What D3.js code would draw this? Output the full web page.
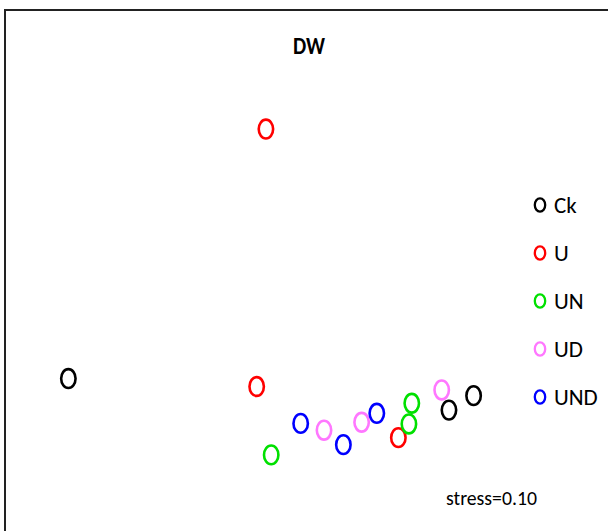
<!DOCTYPE html>
<html>
<head>
<meta charset="utf-8">
<script src="https://cdn.jsdelivr.net/npm/d3@7"></script>
<style>
  body { margin: 0; background: #fff; }
  text { font-family: Carlito, Calibri, "Liberation Sans", Arial, sans-serif; }
</style>
</head>
<body>
<div id="vis"></div>
<script>
const WIDTH = 608;
const HEIGHT = 531;

// grupos y colores
const grupos = ["Ck", "U", "UN", "UD", "UND"];
const colores = ["#000000", "#ff0000", "#00e000", "#ff77ff", "#0000ff"];

// coordenadas NMDS (3 repeticiones por grupo)
const nmds1 = {
  Ck:  [-0.962, 0.768, 0.880],
  U:   [-0.064, -0.106, 0.538],
  UN:  [-0.040, 0.599, 0.586],
  UD:  [0.200, 0.371, 0.735],
  UND: [0.094, 0.288, 0.440]
};
const nmds2 = {
  Ck:  [-0.466, -0.632, -0.556],
  U:   [0.847, -0.508, -0.777],
  UN:  [-0.868, -0.596, -0.705],
  UD:  [-0.738, -0.696, -0.526],
  UND: [-0.702, -0.814, -0.649]
};

const titulo = "DW";
const stress = "stress=0.10";

const SVG = d3.select("#vis").append("svg")
  .attr("width", WIDTH)
  .attr("height", HEIGHT);

// marco (solo se ven el borde superior e izquierdo)
SVG.append("rect")
  .attr("x", 5).attr("y", 10)
  .attr("width", 640).attr("height", 560)
  .attr("fill", "none")
  .attr("stroke", "#222")
  .attr("stroke-width", 2);

const escalaX = d3.scaleLinear().domain([-1, 1]).range([60, 500]);
const escalaY = d3.scaleLinear().domain([-1, 1]).range([480, 100]);

const puntos = [];
grupos.forEach((g, i) => {
  nmds1[g].forEach((v, j) => {
    puntos.push({ grupo: g, color: colores[i], x: v, y: nmds2[g][j] });
  });
});

SVG.selectAll(".punto")
  .data(puntos)
  .join("ellipse")
  .attr("class", "punto")
  .attr("cx", d => escalaX(d.x))
  .attr("cy", d => escalaY(d.y))
  .attr("rx", 7.2)
  .attr("ry", 9.4)
  .attr("fill", "none")
  .attr("stroke", d => d.color)
  .attr("stroke-width", 2.6);

// titulo
SVG.append("text")
  .attr("x", 309).attr("y", 54)
  .attr("text-anchor", "middle")
  .attr("font-size", 24)
  .attr("font-weight", "bold")
  .attr("textLength", 32)
  .attr("lengthAdjust", "spacingAndGlyphs")
  .text(titulo);

// leyenda
const escalaLeyenda = d3.scalePoint().domain(grupos).range([205, 397]);
const leyenda = SVG.selectAll(".leyenda")
  .data(grupos)
  .join("g")
  .attr("class", "leyenda")
  .attr("transform", d => `translate(540,${escalaLeyenda(d)})`);

leyenda.append("ellipse")
  .attr("rx", 5.2).attr("ry", 6.6)
  .attr("fill", "none")
  .attr("stroke", (d, i) => colores[i])
  .attr("stroke-width", 2.3);

leyenda.append("text")
  .attr("x", 14).attr("y", 8)
  .attr("font-size", 23)
  .text(d => d);

// stress
SVG.append("text")
  .attr("x", 446).attr("y", 505)
  .attr("font-size", 20)
  .attr("textLength", 91)
  .attr("lengthAdjust", "spacingAndGlyphs")
  .text(stress);
</script>
</body>
</html>
